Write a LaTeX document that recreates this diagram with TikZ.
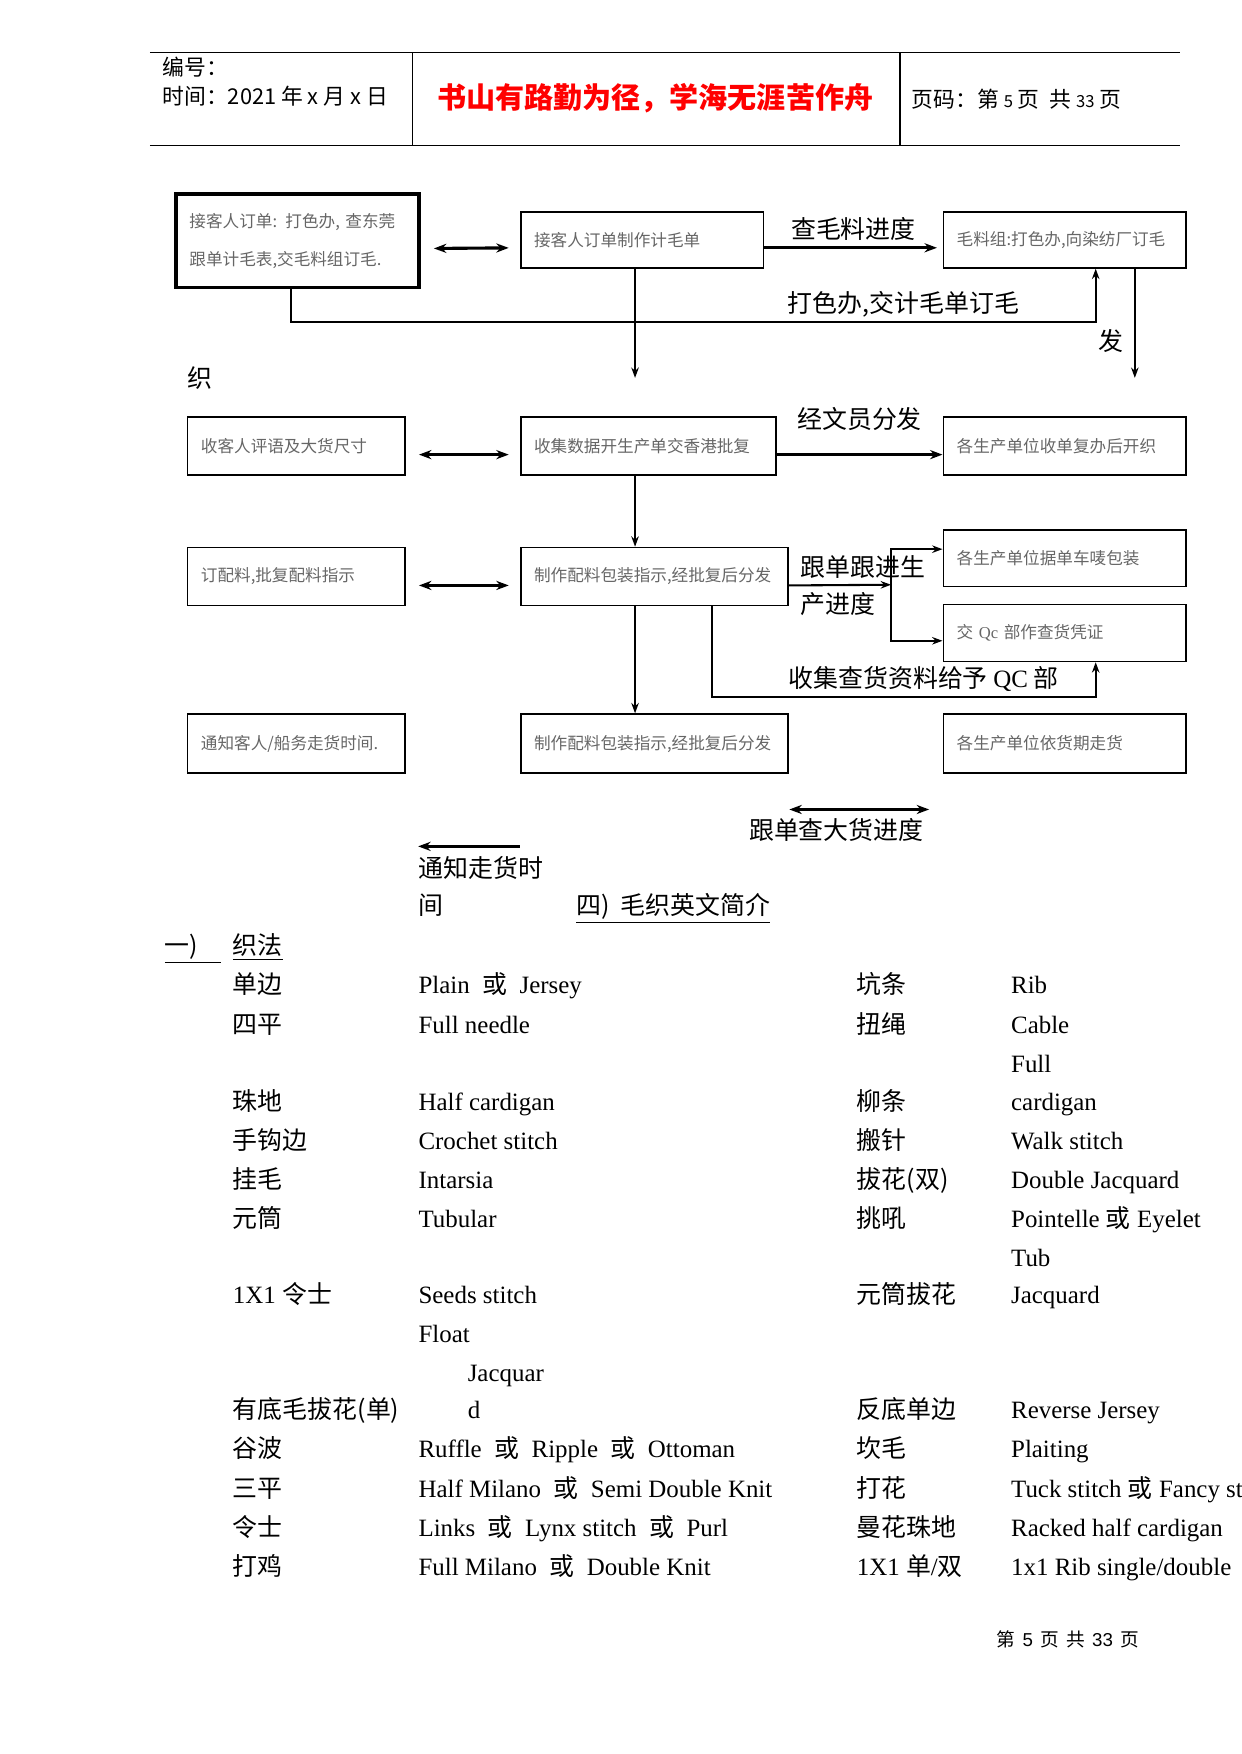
\documentclass[tikz,border=0pt]{standalone}
\usepackage{fontspec}
\setmainfont{Liberation Serif}
\newfontfamily\zh{Noto Sans CJK SC}
\newfontfamily\hd{Liberation Sans}
\usetikzlibrary{arrows.meta,positioning}
\definecolor{boxgray}{gray}{0.4}
\newlength\px
\setlength\px{0.53628pt}
\newcommand{\huo}{{\zh 或}}

\begin{document}
\begin{tikzpicture}[x=0.189189mm, y=-0.189189mm,
    box/.style={draw, line width=0.8pt, anchor=north west, inner xsep=12\px, inner ysep=0pt,
      align=left, font=\zh\fontsize{8}{10}\selectfont, text=boxgray},
    arr/.style={line width=1pt, -{Stealth[length=5pt,width=3.6pt]}},
    harr/.style={line width=1.5pt, -{Stealth[length=6pt,width=4.4pt]}},
    both/.style={line width=1.5pt, {Stealth[length=6pt,width=4.4pt]}-{Stealth[length=6pt,width=4.4pt]}},
    lbl/.style={font=\zh\fontsize{12}{14}\selectfont, inner sep=0pt},
    hdr/.style={font=\zh\fontsize{10.5}{13}\selectfont, anchor=west, inner sep=0pt},
    cn/.style={font=\zh\fontsize{12}{14}\selectfont, anchor=base west, inner sep=0pt},
    en/.style={font=\fontsize{12}{14}\selectfont, anchor=base west, inner sep=0pt},
  ]
  \useasboundingbox (0,0) rectangle (1110,1568.8);

  % page header
  \draw[line width=0.8pt] (134,47) -- (1055,47);
  \draw[line width=0.8pt] (134,130) -- (1055,130);
  \draw[line width=0.8pt] (369,47) -- (369,130);
  \draw[line width=0.8pt] (805,47) -- (805,130);
  \node[hdr] (num) at (145,60) {编号：};
  \node[hdr] (date) at (145,86) {时间：2021 年 x 月 x 日};
  \node[font=\zh\bfseries\fontsize{14}{16}\selectfont, text=red, inner sep=0pt] (motto) at (586,88) {书山有路勤为径，学海无涯苦作舟};
  \node[hdr] (pageno) at (815,89) {页码：第 {\fontsize{8}{10}\selectfont 5} 页\ \ 共 {\fontsize{8}{10}\selectfont 33} 页};

  % flow chart boxes
  \node[box, text width=194\px, minimum height=84\px, line width=1.6pt, font=\zh\fontsize{8}{18.2}\selectfont] (order) at (156,172) {接客人订单: 打色办, 查东莞\\跟单计毛表,交毛料组订毛.};
  \node[box, text width=194\px, minimum height=50\px] (sheet) at (465,189) {接客人订单制作计毛单};
  \node[box, text width=194\px, minimum height=50\px] (yarn) at (843,189) {毛料组:打色办,向染纺厂订毛};

  \node[box, text width=171\px, minimum height=52\px] (comment) at (167,372) {收客人评语及大货尺寸};
  \node[box, text width=205\px, minimum height=52\px] (collect) at (465,372) {收集数据开生产单交香港批复};
  \node[box, text width=194\px, minimum height=52\px] (knit) at (843,372) {各生产单位收单复办后开织};

  \node[box, text width=171\px, minimum height=52\px] (trims) at (167,489) {订配料,批复配料指示};
  \node[box, text width=216\px, minimum height=52\px] (pack1) at (465,489) {制作配料包装指示,经批复后分发};
  \node[box, text width=194\px, minimum height=51\px] (mark) at (843,473) {各生产单位据单车唛包装};
  \node[box, text width=194\px, minimum height=51\px] (qc) at (843,540) {交 {\rmfamily Qc} 部作查货凭证};

  \node[box, text width=171\px, minimum height=53\px] (notify) at (167,638) {通知客人/船务走货时间.};
  \node[box, text width=216\px, minimum height=53\px] (pack2) at (465,638) {制作配料包装指示,经批复后分发};
  \node[box, text width=194\px, minimum height=53\px] (ship) at (843,638) {各生产单位依货期走货};

  % helper points
  \coordinate (lane) at (568,0);
  \coordinate (tap) at (637,0);
  \coordinate (down1) at (568,338);
  \coordinate (down2) at (1015,338);
  \coordinate (up1) at (980,288);
  \coordinate (up2) at (980,623);
  \coordinate (split) at (797,523);

  % connectors
  \draw[both, shorten <=12\px, shorten >=10\px] ([yshift=-7\px]order.east) -- ([yshift=-7\px]sheet.west);
  \draw[harr, shorten >=5\px] ([yshift=-7\px]sheet.east) -- ([yshift=-7\px]yarn.west)
    node[midway, above=5\px, lbl] (chk) {查毛料进度};
  \draw[arr] ([xshift=-6\px]order.south) |- (up1) -- (yarn.south -| up1);
  \draw[arr] (sheet.south -| lane) -- (down1);
  \draw[arr] (yarn.south -| down2) -- (down2);

  \draw[both, shorten <=12\px, shorten >=10\px] ([yshift=-8\px]comment.east) -- ([yshift=-8\px]collect.west);
  \draw[harr] ([yshift=-8\px]collect.east) -- ([yshift=-8\px]knit.west)
    node[midway, above=20\px, lbl] (dist) {经文员分发};
  \draw[arr] (collect.south -| lane) -- (pack1.north -| lane);

  \draw[both, shorten <=12\px, shorten >=10\px] ([yshift=-8\px]trims.east) -- ([yshift=-8\px]pack1.west);
  \draw[arr] ([yshift=-8\px]pack1.east) -- (split);
  \draw[arr] (split) |- ([yshift=8\px]mark.west);
  \draw[arr] (split) |- ([yshift=-7\px]qc.west);
  \draw[arr] (pack1.south -| tap) |- (up2) -- (qc.south -| up2);
  \draw[arr] (pack1.south -| lane) -- (pack2.north -| lane);

  % free labels of the chart
  \node[lbl] (dye) at (808,272) {打色办,交计毛单订毛};
  \node[lbl] (fa) at (994,305) {发};
  \node[lbl] (zhi) at (179,338) {织};
  \node[lbl, anchor=west] (follow1) at (716,507) {跟单跟进生};
  \node[lbl, anchor=west] (follow2) at (716,540) {产进度};
  \node[lbl] (gather) at (826,607) {收集查货资料给予 {\rmfamily QC} 部};

  \coordinate (bl) at (706,724);
  \coordinate (br) at (831,724);
  \draw[both, line width=1pt] (bl) -- (br);
  \node[lbl] (bulk) at (748,742) {跟单查大货进度};
  \coordinate (nr) at (465,757);
  \coordinate (nl) at (374,757);
  \draw[harr] (nr) -- (nl);
  \node[cn] (ship1) at (374,785) {通知走货时};
  \node[cn] (ship2) at (374,818) {间};

  % knitting terms
  \node[cn] (title) at (515,818) {\underline{四)\ \ 毛织英文简介}};
  \node[cn] (sec) at (147,854) {\underline{一)\hspace{11pt}}};
  \node[cn] (secname) at (208,854) {\underline{织法}};

  \node[cn] (a1) at (208,889) {单边};
  \node[en] (b1) at (374,889) {Plain\ \ \huo\ \ Jersey};
  \node[cn] (c1) at (766,889) {坑条};
  \node[en] (d1) at (904,889) {Rib};

  \node[cn] (a2) at (208,924) {四平};
  \node[en] (b2) at (374,924) {Full needle};
  \node[cn] (c2) at (766,924) {扭绳};
  \node[en] (d2) at (904,924) {Cable};

  \node[en] (d3) at (904,959) {Full};

  \node[cn] (a4) at (208,993) {珠地};
  \node[en] (b4) at (374,993) {Half cardigan};
  \node[cn] (c4) at (766,993) {柳条};
  \node[en] (d4) at (904,993) {cardigan};

  \node[cn] (a5) at (208,1028) {手钩边};
  \node[en] (b5) at (374,1028) {Crochet stitch};
  \node[cn] (c5) at (766,1028) {搬针};
  \node[en] (d5) at (904,1028) {Walk stitch};

  \node[cn] (a6) at (208,1063) {挂毛};
  \node[en] (b6) at (374,1063) {Intarsia};
  \node[cn] (c6) at (766,1063) {拔花(双)};
  \node[en] (d6) at (904,1063) {Double Jacquard};

  \node[cn] (a7) at (208,1098) {元筒};
  \node[en] (b7) at (374,1098) {Tubular};
  \node[cn] (c7) at (766,1098) {挑吼};
  \node[en] (d7) at (904,1098) {Pointelle \huo\ Eyelet};

  \node[en] (d8) at (904,1133) {Tub};

  \node[en] (a9) at (208,1166) {1X1 {\zh 令士}};
  \node[en] (b9) at (374,1166) {Seeds stitch};
  \node[cn] (c9) at (766,1166) {元筒拔花};
  \node[en] (d9) at (904,1166) {Jacquard};

  \node[en] (b10) at (374,1201) {Float};
  \node[en] (b11) at (418,1236) {Jacquar};

  \node[cn] (a12) at (208,1269) {有底毛拔花(单)};
  \node[en] (b12) at (418,1269) {d};
  \node[cn] (c12) at (766,1269) {反底单边};
  \node[en] (d12) at (904,1269) {Reverse Jersey};

  \node[cn] (a13) at (208,1304) {谷波};
  \node[en] (b13) at (374,1304) {Ruffle\ \ \huo\ \ Ripple\ \ \huo\ \ Ottoman};
  \node[cn] (c13) at (766,1304) {坎毛};
  \node[en] (d13) at (904,1304) {Plaiting};

  \node[cn] (a14) at (208,1339) {三平};
  \node[en] (b14) at (374,1339) {Half Milano\ \ \huo\ \ Semi Double Knit};
  \node[cn] (c14) at (766,1339) {打花};
  \node[en] (d14) at (904,1339) {Tuck stitch \huo\ Fancy st};

  \node[cn] (a15) at (208,1374) {令士};
  \node[en] (b15) at (374,1374) {Links\ \ \huo\ \ Lynx stitch\ \ \huo\ \ Purl};
  \node[cn] (c15) at (766,1374) {曼花珠地};
  \node[en] (d15) at (904,1374) {Racked half cardigan};

  \node[cn] (a16) at (208,1409) {打鸡};
  \node[en] (b16) at (374,1409) {Full Milano\ \ \huo\ \ Double Knit};
  \node[en] (c16) at (766,1409) {1X1 {\zh 单}/{\zh 双}};
  \node[en] (d16) at (904,1409) {1x1 Rib single/double};

  % footer
  \node[font=\zh\fontsize{9}{11}\selectfont, inner sep=0pt] (foot) at (955,1466) {第\hspace{3.5pt}{\hd 5}\hspace{3.5pt}页\hspace{3.5pt}共\hspace{3.5pt}{\hd 33}\hspace{3.5pt}页};
\end{tikzpicture}
\end{document}
